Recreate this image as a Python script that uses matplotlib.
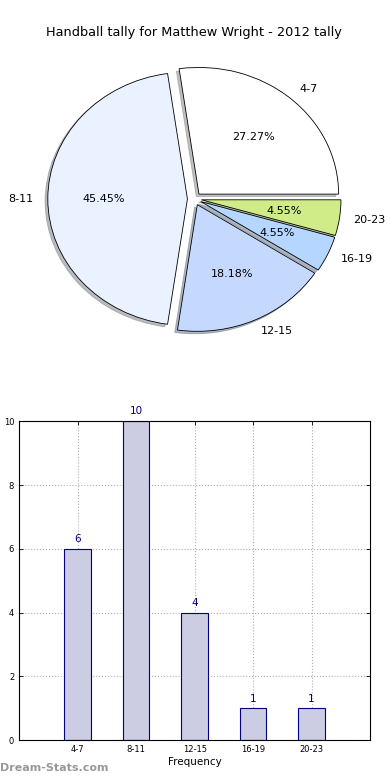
import numpy as np
import matplotlib
matplotlib.use("Agg")
import matplotlib.pyplot as plt

# data
categories = ['4-7', '8-11', '12-15', '16-19', '20-23']
counts = [6, 10, 4, 1, 1]
pie_colors = ['#ffffff', '#eaf1ff', '#c5d9ff', '#b5d7ff', '#d0ec88']
title = 'Handball tally for Matthew Wright - 2012 tally'

fig = plt.figure(figsize=(3.9, 7.8), dpi=100)

# pie chart
ax1 = fig.add_axes([0.051, 0.542, 0.895, 0.406])
wedges, texts, autotexts = ax1.pie(
    counts, labels=categories, colors=pie_colors, explode=[0.05] * len(counts),
    autopct='%1.2f%%', shadow={'ox': -0.014, 'oy': -0.014, 'shade': 0.5}, startangle=0,
    wedgeprops={'edgecolor': 'black', 'linewidth': 0.6},
    textprops={'fontsize': 8})
ax1.set_aspect('auto')
ax1.set_xlim(-1.25, 1.25)
ax1.set_ylim(-1.25, 1.25)
ax1.set_title(title, fontsize=9.3, pad=3)

# bar chart
ax2 = fig.add_axes([0.049, 0.051, 0.9, 0.409])
x = np.arange(len(categories))
bars = ax2.bar(x, counts, width=0.45, color='#ccccE3', edgecolor='#000080', linewidth=0.8, zorder=2)
for xi, c in zip(x, counts):
    ax2.text(xi, c + 0.15, str(c), ha='center', va='bottom', fontsize=7.5, color='#000080')
ax2.set_xlim(-1, 5)
ax2.set_ylim(0, 10)
ax2.set_xticks(x)
ax2.set_xticklabels(categories, fontsize=6)
ax2.set_yticks(range(0, 11, 2))
ax2.tick_params(axis='y', labelsize=6)
ax2.tick_params(direction='in', top=True, right=True, length=3, width=0.6)
ax2.grid(True, linestyle=':', color='#b0b0b0', linewidth=0.8, zorder=0)
ax2.set_axisbelow(True)
ax2.set_xlabel('Frequency', fontsize=7.5, labelpad=2)
ax2.set_ylabel('Total Matches', fontsize=7, labelpad=12)

fig.text(0.0, 0.012, 'Dream-Stats.com', fontsize=8, color='#999999', fontweight='bold')

fig.savefig('out.png', dpi=100)
